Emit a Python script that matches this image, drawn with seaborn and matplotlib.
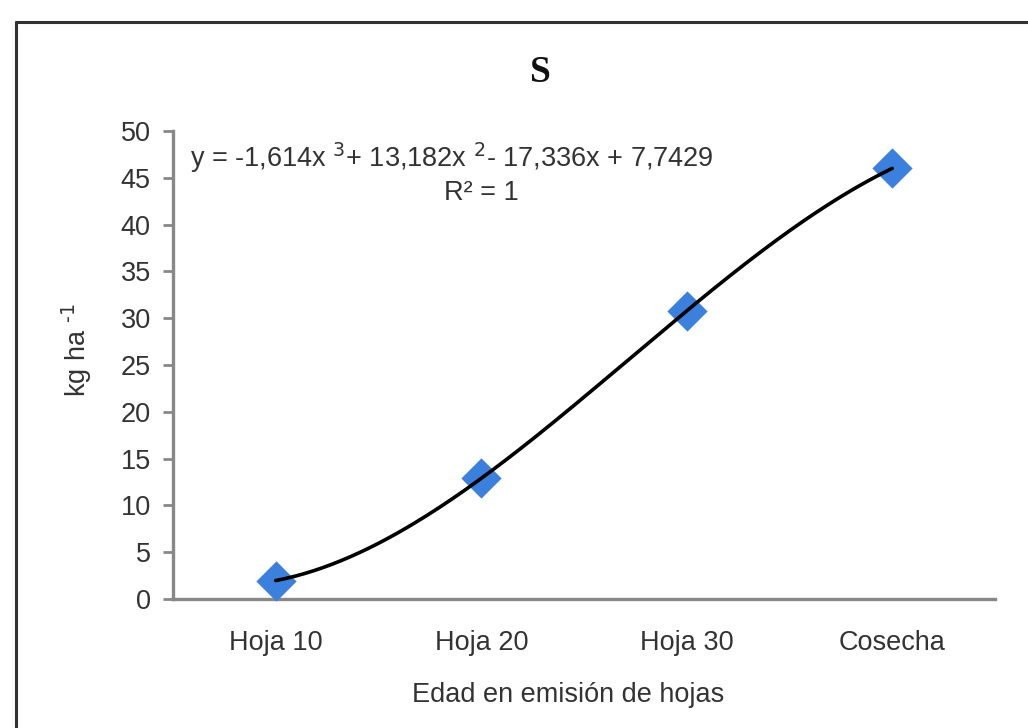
import numpy as np
import pandas as pd
import matplotlib
matplotlib.use("Agg")
import matplotlib.pyplot as plt
from matplotlib.lines import Line2D
import seaborn as sns

categories = ["Hoja 10", "Hoja 20", "Hoja 30", "Cosecha"]
values = [1.97, 12.89, 30.79, 46.01]
y_ticks = [0, 5, 10, 15, 20, 25, 30, 35, 40, 45, 50]

sns.set_theme(style="white")
plt.rcParams["font.family"] = ["Liberation Sans", "DejaVu Sans"]

fig = plt.figure(figsize=(10.28, 7.28), dpi=100)
ax = fig.add_axes([173/1028, 1 - 599/728, (995-173)/1028, (599-131)/728])

pos = np.arange(1, len(categories) + 1)
df = pd.DataFrame({"x": pos, "y": values})

coef = np.polyfit(pos, values, 3)
xs = np.linspace(1, 4, 200)
curve = pd.DataFrame({"x": xs, "y": np.polyval(coef, xs)})

sns.scatterplot(data=df, x="x", y="y", ax=ax, marker="D", s=420,
                color="#3a80dc", edgecolor="#3a80dc", linewidth=0, zorder=3, clip_on=False)
sns.lineplot(data=curve, x="x", y="y", ax=ax, color="black", linewidth=2.6, zorder=4)

ax.set_xlim(0.5, 4.5)
ax.set_ylim(0, 50)
ax.set_yticks(y_ticks)
ax.set_xticks(pos)
ax.set_xticklabels(categories)

for s in ["top", "right"]:
    ax.spines[s].set_visible(False)
for s in ["left", "bottom"]:
    ax.spines[s].set_color("#888888")
    ax.spines[s].set_linewidth(2.4)

fs = 19.5
ax.tick_params(axis="y", direction="out", length=7, width=2.0, color="#888888",
               labelsize=fs, labelcolor="#333333", pad=9, left=True)
ax.tick_params(axis="x", length=0, labelsize=fs, labelcolor="#333333", pad=22)

ax.set_xlabel("Edad en emisión de hojas", fontsize=fs, color="#333333")
ax.xaxis.set_label_coords((568-173)/822, -(682-599)/468)
ax.set_ylabel(r"kg ha $^{\text{-1}}$", fontsize=fs, color="#333333")
ax.yaxis.set_label_coords((94-173)/822, (599-350)/468)

ax.text(0.585, 47.1, r"y = -1,614x $^{3}$+ 13,182x $^{2}$- 17,336x + 7,7429",
        fontsize=fs, color="#333333", ha="left", va="center")
ax.text(2.0, 43.4, "R² = 1", fontsize=fs, color="#333333", ha="center", va="center")

fig.text(540/1028, 1 - 72/728, "S", fontsize=27, fontweight="bold",
         family="Liberation Serif", ha="center", va="center", color="#111111")

# outer chart border
fig.add_artist(Line2D([16/1028, 16/1028], [0, 1 - 22/728], transform=fig.transFigure,
                      color="#333333", linewidth=2.2))
fig.add_artist(Line2D([16/1028, 1], [1 - 22/728, 1 - 22/728], transform=fig.transFigure,
                      color="#333333", linewidth=2.2))

fig.savefig("out.png", dpi=100)
